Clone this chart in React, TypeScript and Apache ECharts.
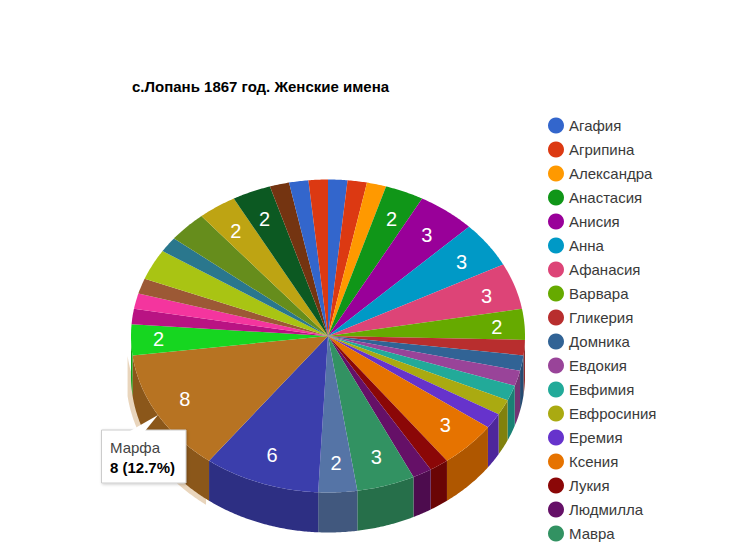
import React, { useEffect, useRef } from "react";
import * as echarts from "echarts";

const titleText = "с.Лопань 1867 год. Женские имена";
const legendNames = [
  "Агафия", "Агрипина", "Александра", "Анастасия", "Анисия", "Анна", "Афанасия", "Варвара", "Гликерия",
  "Домника", "Евдокия", "Евфимия", "Евфросиния", "Еремия", "Ксения", "Лукия", "Людмилла", "Мавра",
];
const values = [1, 1, 1, 2, 3, 3, 3, 2, 1, 1, 1, 1, 1, 1, 3, 1, 1, 3, 2, 6, 8, 2, 1, 1, 1, 2, 1, 2, 2, 2, 1, 1, 1];
const colors = [
  "#3366cc", "#dc3912", "#ff9900", "#109618", "#990099", "#0099c6", "#dd4477", "#66aa00", "#b82e2e",
  "#316395", "#994499", "#22aa99", "#aaaa11", "#6633cc", "#e67300", "#8b0707", "#651067", "#329262",
  "#5574a6", "#3b3eac", "#b77322", "#16d620", "#b91383", "#f4359e", "#9c5935", "#a9c413", "#2a778d",
  "#668d1c", "#bea413", "#0c5922", "#743411", "#3366cc", "#dc3912",
];
// Slices of value 2 that carry no number in the reference (by position in `values`).
const unlabelledSlices = [25, 27];
const highlightIndex = 20;
const tooltipName = "Марфа";
const tooltipValue = "8 (12.7%)";

const FONT = '"Liberation Sans", Arial, sans-serif';
const CX = 328, CY = 336, RX = 197, RY = 156.5, DEPTH = 40;
const total = values.reduce((a, b) => a + b, 0);

const pt = (deg: number, rx: number, ry: number, dy = 0) => {
  const t = (deg * Math.PI) / 180;
  return [CX + rx * Math.sin(t), CY - ry * Math.cos(t) + dy];
};

function arc(a1: number, a2: number, rx: number, ry: number, dy = 0) {
  const n = Math.max(2, Math.ceil((a2 - a1) / 0.5));
  const out: number[][] = [];
  for (let i = 0; i <= n; i++) out.push(pt(a1 + ((a2 - a1) * i) / n, rx, ry, dy));
  return out;
}

function wallPoints(lo: number, hi: number, rx: number, ry: number) {
  return [...arc(lo, hi, rx, ry), ...arc(lo, hi, rx, ry, DEPTH).reverse()];
}

function darken(hex: string, k: number) {
  const n = parseInt(hex.slice(1), 16);
  const c = [(n >> 16) & 255, (n >> 8) & 255, n & 255].map((v) => Math.round(v * k));
  return `rgb(${c[0]},${c[1]},${c[2]})`;
}

function sliceItem(_: any, api: any) {
  const value = api.value(0) as number;
  const cum = api.value(1) as number;
  const sliceIndex = api.value(2) as number;
  const color = api.visual("color") as string;
  const a1 = (cum / total) * 360;
  const a2 = ((cum + value) / total) * 360;
  const children: any[] = [];
  const lo = Math.max(a1, 90), hi = Math.min(a2, 270);
  if (hi > lo) {
    children.push({
      type: "polygon",
      shape: { points: wallPoints(lo, hi, RX, RY) },
      style: { fill: darken(color, 0.76) },
    });
  }
  children.push({
    type: "polygon",
    shape: { points: [[CX, CY], ...arc(a1, a2, RX, RY)] },
    style: { fill: color },
  });
  if (value >= 2 && !unlabelledSlices.includes(sliceIndex)) {
    const mid = (a1 + a2) / 2;
    const s = Math.sin((mid * Math.PI) / 180);
    const kx = 0.83 + 0.03 * Math.pow(s, 8);
    const m = pt(mid, RX * kx, RY * 0.81);
    children.push({
      type: "text",
      x: m[0],
      y: m[1],
      style: {
        text: String(value),
        fill: "#ffffff",
        font: `20px ${FONT}`,
        align: "center",
        verticalAlign: "middle",
      },
    });
  }
  return { type: "group", children };
}

function ringItem(_: any, api: any) {
  const value = api.value(0) as number;
  const cum = api.value(1) as number;
  const a1 = (cum / total) * 360;
  const a2 = ((cum + value) / total) * 360;
  return {
    type: "polygon",
    shape: { points: wallPoints(a1, a2, RX + 5, RY + 5) },
    style: { fill: api.visual("color"), opacity: 0.3 },
  };
}

export default function App() {
  const ref = useRef<HTMLDivElement>(null);
  useEffect(() => {
    document.body.style.margin = "0";
    const chart = echarts.init(ref.current!, null, { renderer: "svg" });
    let cum = 0;
    const sliceSeries = values.map((v, i) => {
      const s = {
        type: "custom",
        name: legendNames[i] ?? (i === highlightIndex ? tooltipName : `·${i}`),
        coordinateSystem: "none",
        silent: true,
        z: 3,
        itemStyle: { color: colors[i] },
        data: [[v, cum, i]],
        renderItem: sliceItem,
      };
      cum += v;
      return s;
    });
    const before = values.slice(0, highlightIndex).reduce((a, b) => a + b, 0);
    chart.setOption({
      animation: false,
      backgroundColor: "#ffffff",
      title: {
        text: titleText,
        left: 132,
        top: 79,
        padding: 0,
        textStyle: { fontFamily: FONT, fontSize: 15, fontWeight: "bold", color: "#000000" },
      },
      legend: {
        data: legendNames,
        orient: "vertical",
        left: 548,
        top: 117.5,
        padding: 0,
        icon: "circle",
        itemWidth: 16,
        itemHeight: 16,
        itemGap: 8,
        selectedMode: false,
        textStyle: { fontFamily: FONT, fontSize: 15, color: "#3a3a3a" },
      },
      series: [
        {
          type: "custom",
          name: "ring",
          coordinateSystem: "none",
          silent: true,
          z: 1,
          itemStyle: { color: colors[highlightIndex] },
          data: [[values[highlightIndex], before]],
          renderItem: ringItem,
        },
        ...sliceSeries,
      ],
      graphic: {
        elements: [
          {
            type: "rect",
            z: 100,
            silent: true,
            shape: { x: 101.5, y: 430, width: 84.5, height: 53 },
            style: { fill: "#ffffff", stroke: "#cccccc", lineWidth: 1, shadowBlur: 3, shadowColor: "rgba(0,0,0,0.2)", shadowOffsetX: 1, shadowOffsetY: 1 },
          },
          {
            type: "polygon",
            z: 101,
            silent: true,
            shape: { points: [[130, 431], [158, 415], [145, 431]] },
            style: { fill: "#ffffff" },
          },
          {
            type: "text",
            z: 102,
            silent: true,
            x: 110,
            y: 447,
            style: { text: tooltipName, fill: "#444444", font: `15px ${FONT}`, verticalAlign: "middle" },
          },
          {
            type: "text",
            z: 102,
            silent: true,
            x: 110,
            y: 467,
            style: { text: tooltipValue, fill: "#000000", font: `bold 15px ${FONT}`, verticalAlign: "middle" },
          },
        ],
      },
    });
    return () => chart.dispose();
  }, []);
  return <div ref={ref} style={{ width: 751, height: 552, position: "absolute", left: 0, top: 0 }} />;
}
